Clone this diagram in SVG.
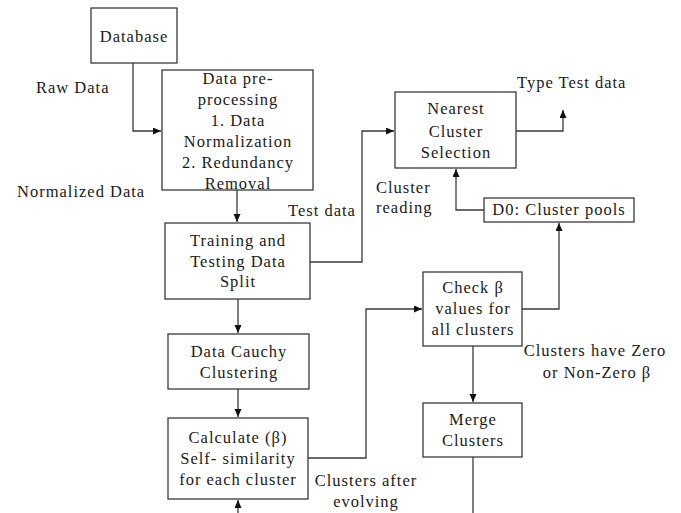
<svg xmlns="http://www.w3.org/2000/svg" width="681" height="513" viewBox="0 0 681 513">
<style>
.box{fill:#fff;stroke:#3a3a3a;stroke-width:1.3}
.ln{fill:none;stroke:#3a3a3a;stroke-width:1.3}
text{font-family:"Liberation Serif","Times New Roman",serif;font-size:16.5px;letter-spacing:1px;fill:#1a1a1a}
.c{text-anchor:middle}
</style>
<defs>
<marker id="ah" markerWidth="9" markerHeight="8" refX="8" refY="3.5" orient="auto" markerUnits="userSpaceOnUse">
<path d="M0,0 L8,3.5 L0,7 z" fill="#111"/>
</marker>
</defs>
<rect width="681" height="513" fill="#fff"/>
<g id="connectors">
<path class="ln" d="M133,63 V131 H161" marker-end="url(#ah)"/>
<path class="ln" d="M237,190 V222" marker-end="url(#ah)"/>
<path class="ln" d="M310,262 H362 V131 H394" marker-end="url(#ah)"/>
<path class="ln" d="M516,131 H563 V110" marker-end="url(#ah)"/>
<path class="ln" d="M484,210 H456 V169" marker-end="url(#ah)"/>
<path class="ln" d="M522,309 H559 V223" marker-end="url(#ah)"/>
<path class="ln" d="M238,299 V333" marker-end="url(#ah)"/>
<path class="ln" d="M238,389 V417" marker-end="url(#ah)"/>
<path class="ln" d="M308,458 H366 V309 H422" marker-end="url(#ah)"/>
<path class="ln" d="M473,346 V402" marker-end="url(#ah)"/>
<path class="ln" d="M473,457 V513"/>
<path class="ln" d="M238,513 V500" marker-end="url(#ah)"/>
</g>
<g id="labels">
<text x="36" y="93">Raw Data</text>
<text x="17" y="197">Normalized Data</text>
<text x="288" y="216">Test data</text>
<text x="376" y="193">Cluster</text>
<text x="376" y="213">reading</text>
<text x="517" y="88">Type Test data</text>
<text class="c" x="595" y="356">Clusters have Zero</text>
<text class="c" x="597" y="378">or Non-Zero β</text>
<text class="c" x="366" y="486">Clusters after</text>
<text class="c" x="366" y="507">evolving</text>
</g>
<g id="database">
<rect class="box" x="91" y="8" width="86" height="55"/>
<text class="c" x="134" y="42">Database</text>
</g>
<g id="preprocessing">
<rect class="box" x="162" y="70" width="151" height="120"/>
<text class="c" x="238" y="84">Data pre-</text>
<text class="c" x="238" y="105">processing</text>
<text class="c" x="238" y="126">1. Data</text>
<text class="c" x="238" y="147">Normalization</text>
<text class="c" x="238" y="168">2. Redundancy</text>
<text class="c" x="238" y="189">Removal</text>
</g>
<g id="split">
<rect class="box" x="165" y="223" width="145" height="76"/>
<text class="c" x="238" y="246">Training and</text>
<text class="c" x="238" y="267">Testing Data</text>
<text class="c" x="238" y="287">Split</text>
</g>
<g id="cauchy">
<rect class="box" x="168" y="334" width="141" height="55"/>
<text class="c" x="239" y="357">Data Cauchy</text>
<text class="c" x="239" y="378">Clustering</text>
</g>
<g id="calculate">
<rect class="box" x="168" y="418" width="140" height="81"/>
<text class="c" x="238" y="443">Calculate (β)</text>
<text class="c" x="238" y="464">Self- similarity</text>
<text class="c" x="238" y="485">for each cluster</text>
</g>
<g id="nearest">
<rect class="box" x="395" y="92" width="121" height="76"/>
<text class="c" x="456" y="114">Nearest</text>
<text class="c" x="456" y="137">Cluster</text>
<text class="c" x="456" y="158">Selection</text>
</g>
<g id="pools">
<rect class="box" x="484" y="198" width="150" height="24"/>
<text class="c" x="559" y="215">D0: Cluster pools</text>
</g>
<g id="check">
<rect class="box" x="423" y="272" width="99" height="74"/>
<text class="c" x="473" y="293">Check β</text>
<text class="c" x="473" y="314">values for</text>
<text class="c" x="473" y="335">all clusters</text>
</g>
<g id="merge">
<rect class="box" x="423" y="403" width="99" height="54"/>
<text class="c" x="473" y="425">Merge</text>
<text class="c" x="473" y="446">Clusters</text>
</g>
</svg>
